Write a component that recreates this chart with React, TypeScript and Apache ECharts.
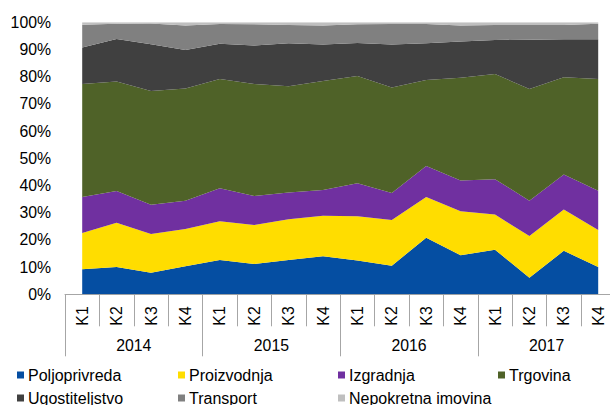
import React, { useEffect, useRef } from "react";
import * as echarts from "echarts";

const quarters = ["K1", "K2", "K3", "K4", "K1", "K2", "K3", "K4", "K1", "K2", "K3", "K4", "K1", "K2", "K3", "K4"];
const years = ["2014", "2015", "2016", "2017"];
const yTicks = [0, 10, 20, 30, 40, 50, 60, 70, 80, 90, 100];

const poljoprivreda = [9.2, 10.0, 7.9, 10.3, 12.6, 11.1, 12.6, 14.0, 12.4, 10.5, 20.8, 14.4, 16.4, 6.1, 16.0, 10.0];
const proizvodnja = [13.3, 16.3, 14.3, 13.7, 14.3, 14.4, 15.0, 14.9, 16.3, 16.8, 15.0, 16.1, 12.9, 15.3, 15.2, 13.6];
const izgradnja = [13.3, 11.7, 10.7, 10.4, 12.1, 10.6, 9.8, 9.4, 12.1, 9.9, 11.4, 11.3, 13.0, 13.0, 12.8, 14.5];
const trgovina = [41.5, 40.2, 41.8, 41.3, 40.2, 41.2, 39.1, 40.1, 39.5, 38.8, 31.6, 37.8, 38.7, 41.1, 35.8, 41.1];
const ugostiteljstvo = [13.4, 15.7, 17.2, 14.1, 12.9, 14.2, 15.8, 13.4, 12.1, 15.8, 13.5, 13.3, 12.5, 18.1, 14.0, 14.6];
const transport = [8.4, 5.6, 7.7, 9.0, 7.3, 7.8, 6.7, 7.0, 6.9, 7.6, 7.1, 5.9, 5.5, 5.4, 5.2, 5.7];
const nepokretna = [0.9, 0.5, 0.4, 1.2, 0.6, 0.7, 1.0, 1.2, 0.7, 0.6, 0.6, 1.2, 1.0, 1.0, 1.0, 0.5];

const seriesNames = ["Poljoprivreda", "Proizvodnja", "Izgradnja", "Trgovina", "Ugostiteljstvo", "Transport", "Nepokretna imovina"];
const seriesData = [poljoprivreda, proizvodnja, izgradnja, trgovina, ugostiteljstvo, transport, nepokretna];
const colors = ["#054EA2", "#FFDD00", "#7030A0", "#4F6228", "#404040", "#808080", "#BFBFBF"];

const FONT = "'Liberation Sans', Arial, sans-serif";
const AXIS_COLOR = "#A6A6A6";

const legendPos = [
  { left: 17, top: 367 },
  { left: 178, top: 367 },
  { left: 338, top: 367 },
  { left: 498, top: 367 },
  { left: 17, top: 390 },
  { left: 178, top: 390 },
  { left: 338, top: 390 },
];

export default function App() {
  const ref = useRef<HTMLDivElement>(null);

  useEffect(() => {
    if (!ref.current) return;
    const chart = echarts.init(ref.current, null, { renderer: "svg" });
    const textStyle = { fontFamily: FONT, fontSize: 15.8, color: "#000" };
    chart.setOption({
      animation: false,
      textStyle: { fontFamily: FONT },
      grid: { left: 65, top: 22.3, width: 550.4, height: 272, containLabel: false },
      legend: seriesNames.map((n, i) => ({
        data: [n],
        left: legendPos[i].left,
        top: legendPos[i].top,
        icon: "rect",
        itemWidth: 7,
        itemHeight: 7,
        padding: 0,
        textStyle: { ...textStyle, fontSize: 16, padding: [0, 0, 0, -1] },
        selectedMode: false,
      })),
      xAxis: [
        {
          type: "category",
          data: quarters,
          position: "bottom",
          boundaryGap: true,
          axisLine: { show: true, lineStyle: { color: AXIS_COLOR, width: 1 } },
          axisTick: { show: true, interval: 0, length: 32, lineStyle: { color: AXIS_COLOR, width: 1 } },
          axisLabel: { ...textStyle, interval: 0, rotate: 90, margin: 12 },
          splitLine: { show: false },
        },
        {
          type: "category",
          data: years,
          position: "bottom",
          boundaryGap: true,
          axisLine: { show: false },
          axisTick: { show: true, interval: 0, length: 62, lineStyle: { color: AXIS_COLOR, width: 1 } },
          axisLabel: { ...textStyle, interval: 0, margin: 43 },
          splitLine: { show: false },
        },
      ],
      yAxis: {
        type: "value",
        min: yTicks[0],
        max: yTicks[yTicks.length - 1],
        interval: 10,
        axisLine: { show: false },
        axisTick: { show: false },
        splitLine: { show: false },
        axisLabel: { ...textStyle, margin: 14, formatter: "{value}%" },
      },
      series: seriesNames.map((n, i) => ({
        name: n,
        type: "line",
        stack: "total",
        xAxisIndex: 0,
        data: seriesData[i],
        symbol: "none",
        showSymbol: false,
        lineStyle: { width: 0, color: colors[i] },
        itemStyle: { color: colors[i] },
        areaStyle: { color: colors[i], opacity: 1 },
      })),
    });
    return () => chart.dispose();
  }, []);

  return (
    <div style={{ position: "fixed", left: 0, top: 0, width: 610, height: 405, overflow: "hidden", background: "#fff" }}>
      <div ref={ref} style={{ width: 620, height: 405 }} />
    </div>
  );
}
